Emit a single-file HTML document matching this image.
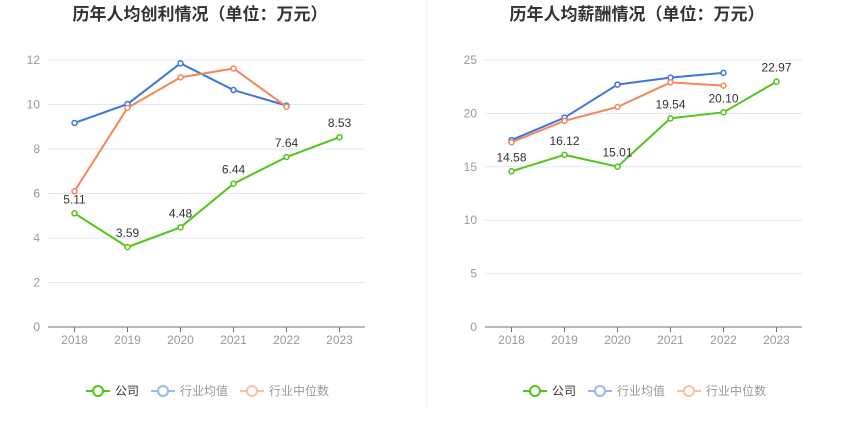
<!DOCTYPE html>
<html><head><meta charset="utf-8"><style>
body{margin:0;background:#fff;font-family:"Liberation Sans","Noto Sans CJK SC",sans-serif}
svg{display:block}
</style></head><body>
<svg id="c" width="850" height="436">
<line x1="427" y1="0" x2="427" y2="408" stroke="#eef0f4"/>
</svg>
<script>
const years = ["2018","2019","2020","2021","2022","2023"];
const profitCompany = [5.11,3.59,4.48,6.44,7.64,8.53];
const profitAvg = [9.17,10.02,11.85,10.65,9.95];
const profitMedian = [6.1,9.85,11.22,11.62,9.9];
const profitTicks = [0,2,4,6,8,10,12];
const salaryCompany = [14.58,16.12,15.01,19.54,20.10,22.97];
const salaryAvg = [17.5,19.6,22.7,23.35,23.8];
const salaryMedian = [17.3,19.3,20.6,22.9,22.6];
const salaryTicks = [0,5,10,15,20,25];
const NS="http://www.w3.org/2000/svg";
const svg=document.getElementById('c');
function mk(t,a,p){const e=document.createElementNS(NS,t);for(const k in a)e.setAttribute(k,a[k]);(p||svg).appendChild(e);return e;}
function chart(ox,title,ticks,comp,avg,med,name){
  const g=mk('g',{});
  
  
  const x0=ox+48,x1=ox+365,yTop=60,yBot=327,max=ticks[ticks.length-1];
  const X=i=>x0+26.5+i*53, Y=v=>yBot-(v/max)*(yBot-yTop);
  const t=mk('text',{x:ox+200,y:20,'text-anchor':'middle','font-size':17,'font-weight':'bold',fill:'#333'},g);t.textContent=title;
  
  
  ticks.forEach(v=>{
    if(v>0){const l=mk('line',{x1:x0,x2:x1,y1:Y(v),y2:Y(v),stroke:'#e0e6f1'},g);
    
    }
    const tx=mk('text',{x:ox+40,y:Y(v)+4,'text-anchor':'end','font-size':12,fill:'#999'},g);tx.textContent=v;
    
    
  });
  const ax=mk('line',{x1:x0,x2:x1,y1:yBot,y2:yBot,stroke:'#6e7079'},g);
  
  
  years.forEach((y,i)=>{
    const tk=mk('line',{x1:X(i),x2:X(i),y1:yBot,y2:yBot+5,stroke:'#6e7079'},g);
    
    
    const tx=mk('text',{x:X(i),y:yBot+17,'text-anchor':'middle','font-size':12,fill:'#999'},g);tx.textContent=y;
    
    
  });
  function series(d,c,nm,labels){
    const p=mk('polyline',{points:d.map((v,i)=>X(i)+','+Y(v)).join(' '),fill:'none',stroke:c,'stroke-width':2},g);
    
    
    d.forEach((v,i)=>{
      const m=mk('circle',{cx:X(i),cy:Y(v),r:2.5,fill:'#fff',stroke:c,'stroke-width':1.5},g);
      
      
      if(labels){const l=mk('text',{x:X(i),y:Y(v)-10,'text-anchor':'middle','font-size':12,fill:'#333'},g);l.textContent=v.toFixed(2);
      
      }
    });
  }
  series(avg,'#3a76e3','industry-average');
  series(med,'#f5865a','industry-median');
  series(comp,'#52c41a','company',true);
  const leg=[['公司','#52c41a','#333'],['行业均值','#9ab8f0','#999'],['行业中位数','#f9bfa6','#999']];
  const lx=[ox+86,ox+151,ox+240];
  leg.forEach((L,i)=>{
    const lg=mk('g',{},g);
    
    
    mk('line',{x1:lx[i],x2:lx[i]+24,y1:391,y2:391,stroke:L[1],'stroke-width':2},lg);
    mk('circle',{cx:lx[i]+12,cy:391,r:5,fill:'#fff',stroke:L[1],'stroke-width':2},lg);
    const tx=mk('text',{x:lx[i]+29,y:395,'font-size':12,fill:L[2]},lg);tx.textContent=L[0];
  });
}
chart(0,'历年人均创利情况（单位：万元）',profitTicks,profitCompany,profitAvg,profitMedian,'profit-chart');
chart(437,'历年人均薪酬情况（单位：万元）',salaryTicks,salaryCompany,salaryAvg,salaryMedian,'salary-chart');
</script>
</body></html>
